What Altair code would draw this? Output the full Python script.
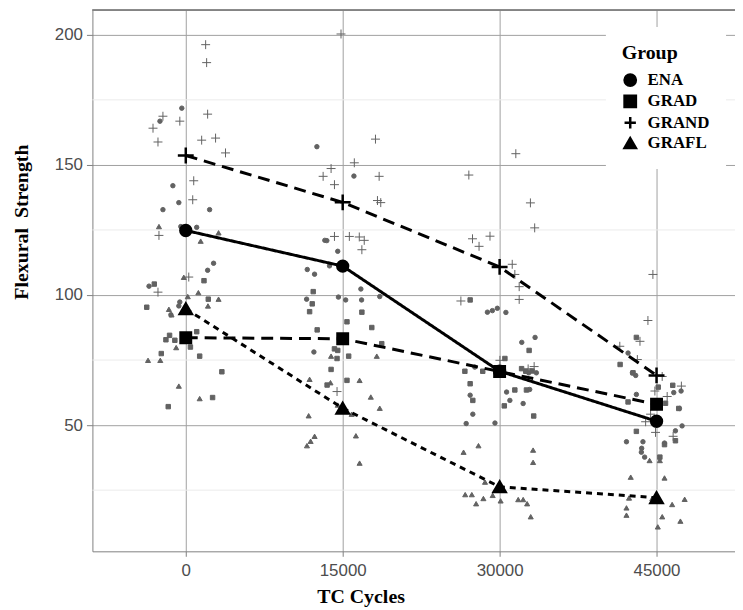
import altair as alt
import pandas as pd

groups = ["ENA", "GRAD", "GRAND", "GRAFL"]
cycles = [0, 15000, 30000, 45000]

# group means
mean_ENA = [124.8, 111.1, 70.7, 51.5]
mean_GRAD = [83.6, 83.2, 70.6, 58.0]
mean_GRAND = [153.6, 135.6, 110.8, 69.1]
mean_GRAFL = [94.7, 56.5, 26.3, 22.1]

# jittered raw observations: x (cycles + jitter), y (strength)
ena_x = [-380, -2468, -1234, -665, -2184, 2279, -475, 1044, 2658, 2089, -3513, -570, -665, -1424,
         12532, 16073, 13292, 13481, 14526, 11613, 12310, 13738, 11550, 14592, 15285, 16738, 16805, 18542, 12247,
         28833, 29308, 29782, 30599, 32118, 33390, 27628, 32782, 33513, 32877, 30665, 30979, 32250, 27183, 27438, 26804, 29555,
         42277, 42694, 43008, 43072, 46645, 47346, 47185, 47441, 46807, 42125, 43701, 43578, 43549, 43862, 45762]
ena_y = [171.8, 166.8, 142, 135.5, 132.8, 132.8, 126.3, 126, 112.2, 109.5, 103.4, 97.3, 95.8, 92.4,
         157, 145.7, 121, 120.9, 116.8, 109.8, 108, 111.2, 98.4, 99.2, 98.1, 102.3, 98.1, 99.4, 78.1,
         93.4, 94, 94.9, 93.3, 81.8, 83.7, 72.3, 70.1, 70.1, 63.7, 62.7, 59.5, 58.3, 61.5, 54.2, 50.6, 50.8,
         77.7, 70.1, 69.1, 61.8, 62.5, 63.1, 56.4, 49.7, 47.8, 43.6, 43.6, 41.1, 39.6, 37.7, 43.1]

grad_x = [-3010, 1741, 2152, -3731, 1044, -1550, -1899, -1044, 443, 1329, -2342, 3449, 2563, -1677,
          12181, 12087, 11836, 16833, 15409, 17782, 12561, 18732, 14212, 14526, 14459, 15570, 13890, 15409, 13510,
          27183, 30504, 32820, 26678, 28387, 27183, 27438, 31454, 32565, 30447, 33258, 32498, 32100, 33100,
          43072, 41518, 42752, 46548, 45163, 42277, 45857, 47119, 43072, 45762, 46807, 45318]
grad_y = [104.2, 105.5, 98.4, 95.3, 85.9, 84.5, 82.8, 82.6, 80, 76.5, 77.5, 70.5, 60.6, 57.1,
          101.3, 96.6, 93.6, 93.4, 89.7, 87.5, 86.6, 81.3, 79.3, 78.7, 75.6, 76.5, 71.4, 67.2, 65.4,
          98.1, 75.6, 78.7, 70.7, 70.7, 65.9, 59.5, 63.5, 63.5, 57.4, 53.5, 70.7, 71.7, 70.8,
          83.7, 73.3, 70.1, 65.3, 64.6, 58.9, 58.4, 56.4, 47.6, 42.5, 44, 37.7]

grand_x = [1899, 1994, 2089, -2184, -3133, -2658, -570, 1519, 2848, 3798, 760, 665, -2563, -2658, 285,
           14839, 18133, 16111, 13890, 13130, 14212, 18484, 18323, 18637, 14212, 15636, 16586, 17060, 16833, 14459,
           31549, 27058, 32944, 33352, 27409, 28035, 29080, 31206, 31454, 31871, 31871, 26298, 30029, 32725, 33300,
           44652, 44177, 41489, 43417, 43166, 47375, 44842, 46017, 44431, 43956, 44905, 46586, 45540]
grand_y = [196.2, 189.3, 169.5, 168.7, 164.1, 158.8, 166.8, 159.5, 160.3, 154.6, 143.9, 136.6, 122.9, 101.1, 106.9,
           200.3, 159.9, 150.8, 148.6, 145.6, 142.4, 145.6, 136.3, 135.5, 122.5, 122.5, 122.3, 121, 117.4, 62.9,
           154.3, 146.1, 135.4, 125.8, 121.6, 118.7, 122.6, 111.8, 107.9, 103.2, 98.3, 97.7, 74.9, 71.6, 72.5,
           107.9, 90.2, 80.3, 82.2, 75.2, 65, 63.1, 61, 54.2, 51.3, 47.2, 45.7, 68.7]

grafl_x = [-2563, 3133, 1424, -190, 1203, 190, 3133, 2120, -1614, -1361, -918, -3608, -2437, -665, 1329,
           13890, 18257, 11836, 13833, 16615, 17687, 18542, 14526, 15855, 11745, 12314, 11934, 11583, 16263, 16615,
           26554, 27979, 28605, 26710, 27343, 27753, 28449, 29337, 30095, 31777, 32251, 32630, 32973, 33200, 33200,
           42533, 45762, 42372, 42125, 42125, 45543, 45121, 46491, 47688, 47280, 45318, 44593, 44336]
grafl_y = [126.3, 123.9, 120.7, 106.8, 100.9, 99.4, 98.4, 95.8, 94.5, 92.4, 79.8, 74.9, 74.9, 65, 60.2,
           76.5, 76.5, 67.6, 66.3, 67.2, 60.8, 56.5, 57.7, 54.2, 53.6, 45.7, 43.8, 42.1, 45.9, 35.4,
           39.6, 42.1, 28.1, 23.3, 23.3, 19.8, 21.8, 23, 20.9, 21.4, 21.4, 19.8, 14.8, 40.4, 35.7,
           30, 29.7, 22, 18.2, 15.4, 14.8, 10.9, 19.5, 21.5, 13.1, 36.4, 21.8, 36.4]

x_ticks = [0, 15000, 30000, 45000]
y_ticks = [50, 100, 150, 200]
y_minor = [25, 75, 125, 175]

# ---- tables ----
raw = []
for g, xs, ys in [("ENA", ena_x, ena_y), ("GRAD", grad_x, grad_y),
                  ("GRAND", grand_x, grand_y), ("GRAFL", grafl_x, grafl_y)]:
    for a, b in zip(xs, ys):
        raw.append({"cycles": a, "strength": b, "group": g})
pts = pd.DataFrame(raw)

mrows = []
for g, ms in [("ENA", mean_ENA), ("GRAD", mean_GRAD), ("GRAND", mean_GRAND), ("GRAFL", mean_GRAFL)]:
    for c, m in zip(cycles, ms):
        mrows.append({"cycles": c, "strength": m, "group": g})
means = pd.DataFrame(mrows)
minor = pd.DataFrame({"v": y_minor})

W, H = 647, 545
xscale = alt.Scale(domain=[-8924, 52500], nice=False, zero=False)
yscale = alt.Scale(domain=[1.5, 209.5], nice=False, zero=False)
PLUS = "M-1,0H1M0,-1V1"
shape_scale = alt.Scale(domain=groups, range=["circle", "square", PLUS, "triangle-up"])
dash_scale = alt.Scale(domain=groups, range=[[1, 0], [12, 7], [12, 7], [6, 5]])
black_scale = alt.Scale(domain=groups, range=["black", "black", "black", "black"])

GRID = "#a0a0a0"
BORDER = "#808080"
LAB = "#4d4d4d"

x_axis = alt.Axis(values=x_ticks, format="d", grid=True, gridColor=GRID, domainColor=BORDER,
                  tickColor=BORDER, tickSize=5, labelFont="Liberation Sans", labelFontSize=17,
                  labelColor=LAB, labelPadding=6, title="TC Cycles", titleFont="Liberation Serif",
                  titleFontSize=20, titleFontWeight="bold", titleColor="black",
                  titleX=270, titleY=46, titleAlign="center", titleBaseline="middle")
y_axis = alt.Axis(values=y_ticks, grid=True, gridColor=GRID, domainColor=BORDER,
                  tickColor=BORDER, tickSize=6, labelFont="Liberation Sans", labelFontSize=17,
                  labelColor=LAB, labelPadding=4, title="Flexural\u00a0\u00a0Strength",
                  titleFont="Liberation Serif", titleFontSize=20, titleFontWeight="bold",
                  titleColor="black", titleX=-71, titleY=213, titleAlign="center",
                  titleBaseline="middle", titleAngle=270)

legend = alt.Legend(title="Group", orient="none", legendX=517, legendY=17, fillColor="white",
                    padding=16, titleFont="Liberation Serif", titleFontSize=20,
                    titleFontWeight="bold", titleColor="black", labelFont="Liberation Serif",
                    labelFontSize=17, labelFontWeight="bold", labelColor="black",
                    symbolSize=130, symbolFillColor="black", symbolStrokeColor="black",
                    symbolStrokeWidth=2.5, rowPadding=-1.5, titlePadding=9, labelOffset=9, zindex=2)

minor_rules = alt.Chart(minor).mark_rule(color="#ebebeb", strokeWidth=1).encode(
    y=alt.Y("v:Q", scale=yscale, axis=y_axis)
)

top_border = alt.Chart(minor).mark_rule(color=BORDER, strokeWidth=1).encode(
    x=alt.value(0), x2=alt.value(W), y=alt.value(0)
)

GREY = "#626262"
scatter = alt.Chart(pts).transform_calculate(
    sz="datum.group == 'GRAND' ? 81 : (datum.group == 'GRAFL' ? 26 : 20)"
).mark_point(fill=GREY, stroke=GREY, strokeWidth=1, opacity=1).encode(
    x=alt.X("cycles:Q", scale=xscale, axis=x_axis),
    y=alt.Y("strength:Q", scale=yscale, axis=y_axis),
    shape=alt.Shape("group:N", scale=shape_scale, legend=None),
    size=alt.Size("sz:Q", scale=None),
)

lines = alt.Chart(means).mark_line(color="black", strokeWidth=3).encode(
    x=alt.X("cycles:Q", scale=xscale, axis=x_axis),
    y=alt.Y("strength:Q", scale=yscale, axis=y_axis),
    strokeDash=alt.StrokeDash("group:N", scale=dash_scale, legend=None),
    detail="group:N",
)

mean_pts = alt.Chart(means).transform_calculate(
    sz="datum.group == 'GRAND' ? 256 : (datum.group == 'GRAFL' ? 150 : (datum.group == 'ENA' ? 120 : 110))"
).mark_point(filled=False, strokeWidth=2.5, opacity=1).encode(
    x=alt.X("cycles:Q", scale=xscale, axis=x_axis),
    y=alt.Y("strength:Q", scale=yscale, axis=y_axis),
    shape=alt.Shape("group:N", scale=shape_scale, legend=legend),
    stroke=alt.Stroke("group:N", scale=black_scale, legend=legend),
    fill=alt.Fill("group:N", scale=black_scale, legend=legend),
    size=alt.Size("sz:Q", scale=None),
)

chart = alt.layer(minor_rules, top_border, scatter, lines, mean_pts).resolve_scale(
    shape="independent"
).properties(
    width=W, height=H,
    autosize=alt.AutoSizeParams(type="none"),
    padding={"left": 85, "top": 0, "right": 0, "bottom": 56},
    background="white",
).configure_view(stroke=None)

chart.save("out.html", embed_options={"renderer": "svg", "actions": False})
